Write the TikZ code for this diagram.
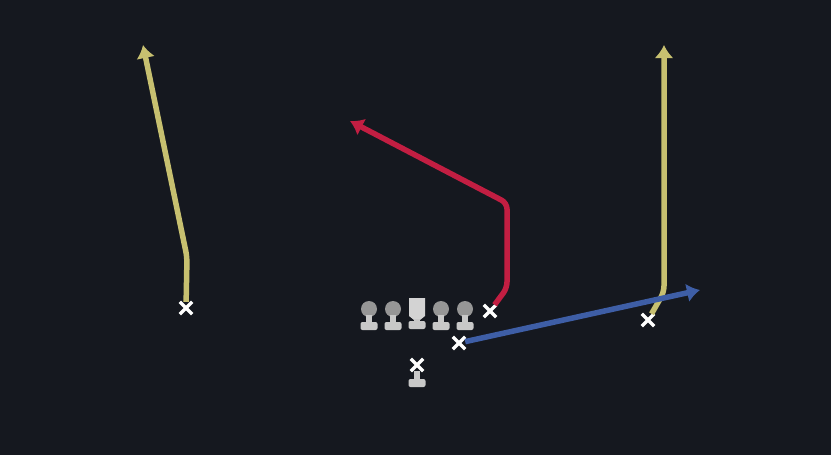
\documentclass[tikz,border=0pt]{standalone}
\usetikzlibrary{arrows.meta}
\usetikzlibrary{shapes.misc}

\definecolor{fieldbg}{RGB}{21,24,31}
\definecolor{routeyellow}{RGB}{199,192,112}
\definecolor{routered}{RGB}{194,30,66}
\definecolor{routeblue}{RGB}{62,94,166}
\definecolor{headgray}{RGB}{150,150,150}
\definecolor{bodygray}{RGB}{200,200,200}

\tikzset{
  player/.style={cross out, draw=white, line width=3.4pt, minimum size=9pt, inner sep=0pt},
  route/.style={line width=5.5pt, line join=round, rounded corners=6pt, -{Latex[length=13pt,width=19pt]}},
  pics/lineman/.style={code={
    \fill[headgray] (0,0) circle (8);
    \fill[bodygray] (-3,6) rectangle (3,14);
    \fill[bodygray, rounded corners=2pt] (-8.5,13) rectangle (8.5,21);
  }},
  pics/centerman/.style={code={
    \fill[bodygray!80!white] (-8,-11) -- (8,-11) -- (8,7) -- (3,11) -- (-3,11) -- (-8,7) -- cycle;
    \fill[bodygray] (-3,10) rectangle (3,13);
    \fill[bodygray, rounded corners=2pt] (-8.5,12) rectangle (8.5,20);
  }},
  pics/qbbody/.style={code={
    \fill[bodygray] (-3,6) rectangle (3,15);
    \fill[bodygray, rounded corners=2pt] (-8.5,14) rectangle (8.5,22);
  }}
}

\begin{document}
\begin{tikzpicture}[x=1pt,y=-1pt]
\fill[fieldbg] (0,0) rectangle (831,455);
\useasboundingbox (0,0) rectangle (831,455);

% offensive line
\pic at (369,309) {lineman};
\pic at (393,309) {lineman};
\pic at (417,309) {centerman};
\pic at (441,309) {lineman};
\pic at (465,309) {lineman};

% quarterback
\pic at (417,365) {qbbody};
\node[player] (qb) at (417,365) {};

% skill players
\node[player] (wrL) at (186,308) {};
\node[player] (wrR) at (648,320) {};
\node[player] (slot) at (490,311) {};
\node[player] (rb) at (459,343) {};

% route points
\coordinate (wrLbend) at (187,257);
\coordinate (wrLend) at (143,45);
\coordinate (wrRbend) at (664,292);
\coordinate (wrRend) at (664,45);
\coordinate (slotup) at (507,288);
\coordinate (slotbreak) at (507,203);
\coordinate (slotend) at (350,121);
\coordinate (rbend) at (700,290);

\draw[route, routeyellow] (wrL) -- (wrLbend) -- (wrLend); % go route left
\draw[route, routeyellow] (wrR) -- (wrRbend) -- (wrRend); % go route right
\draw[route, routered] (slot) -- (slotup) -- (slotbreak) -- (slotend); % post
\draw[route, routeblue] (rb) -- (rbend); % flat

\end{tikzpicture}
\end{document}
